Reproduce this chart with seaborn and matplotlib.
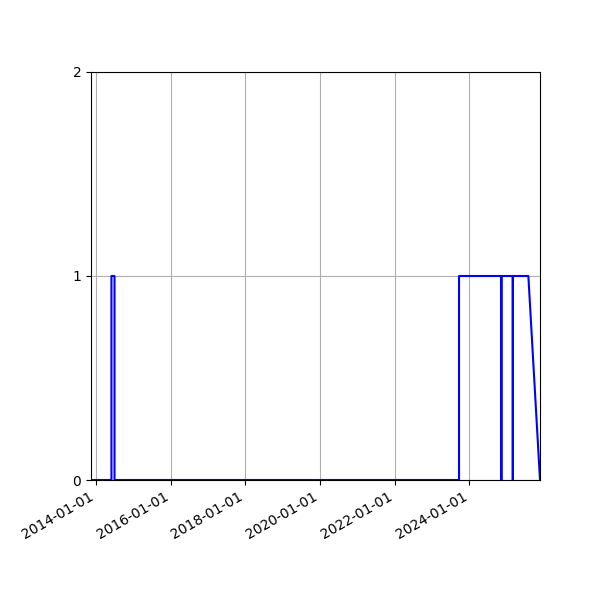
#%%
import pandas as pd
import matplotlib
matplotlib.use("Agg")
import matplotlib.pyplot as plt
import matplotlib.dates as mdates
import seaborn as sns

# points (0/1 flag over time)
dates = ["2013-11-13", "2014-06-01", "2014-06-01", "2014-07-01", "2014-07-01",
         "2023-09-22", "2023-09-22", "2024-11-09", "2024-11-09", "2024-11-09",
         "2025-03-01", "2025-03-01", "2025-03-01", "2025-07-31", "2025-11-22"]
values = [0, 0, 1, 1, 0,
          0, 1, 1, 0, 1,
          1, 0, 1, 1, 0]
ytick_vals = [0, 1, 2]

df = pd.DataFrame({"date": pd.to_datetime(dates), "value": values})

#%%
fig = plt.figure(figsize=(6, 6), dpi=100)
ax = fig.add_axes([91 / 600, 0.2, 449 / 600, 408 / 600])

g = sns.lineplot(data=df, x="date", y="value", ax=ax,
                 estimator=None, sort=False, color="blue", linewidth=1.5)

g.set_xlim(df.date.min(), df.date.max())
g.set_ylim(0, 2)
g.set_yticks(ytick_vals)
g.xaxis.set_major_locator(mdates.YearLocator(2))
g.xaxis.set_major_formatter(mdates.DateFormatter("%Y-%m-%d"))
g.grid(True)
plt.xlabel("")
plt.ylabel("")
for lab in g.get_xticklabels():
    lab.set_rotation(30)
    lab.set_ha("right")

plt.savefig("out.png", dpi=100)
